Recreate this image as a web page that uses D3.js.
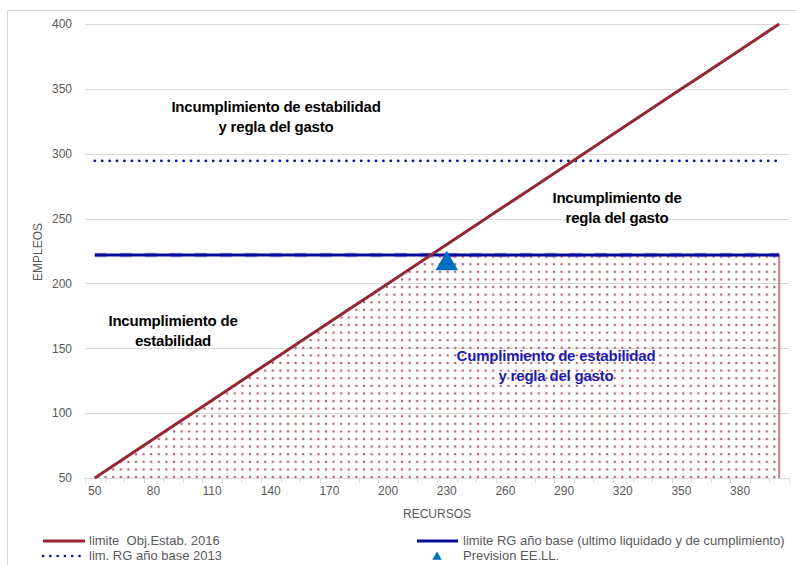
<!DOCTYPE html>
<html>
<head>
<meta charset="utf-8">
<script src="https://cdn.jsdelivr.net/npm/d3@7"></script>
<style>
  html, body { margin: 0; padding: 0; background: #fff; }
  svg { display: block; }
  text { font-family: "Liberation Sans", Arial, sans-serif; }
</style>
</head>
<body>
<svg id="chart" width="796" height="565"></svg>
<script>
// ---- Data ----
const categories = [50,60,70,80,90,100,110,120,130,140,150,160,170,180,190,200,210,220,230,240,250,260,270,280,290,300,310,320,330,340,350,360,370,380,390,400];
const limiteEstab = [50,60,70,80,90,100,110,120,130,140,150,160,170,180,190,200,210,220,230,240,250,260,270,280,290,300,310,320,330,340,350,360,370,380,390,400];
const limiteRG = [222,222,222,222,222,222,222,222,222,222,222,222,222,222,222,222,222,222,222,222,222,222,222,222,222,222,222,222,222,222,222,222,222,222,222,222];
const limRG2013 = [294.5,294.5,294.5,294.5,294.5,294.5,294.5,294.5,294.5,294.5,294.5,294.5,294.5,294.5,294.5,294.5,294.5,294.5,294.5,294.5,294.5,294.5,294.5,294.5,294.5,294.5,294.5,294.5,294.5,294.5,294.5,294.5,294.5,294.5,294.5,294.5];
const previsionX = [230];
const previsionY = [216];
const yTicks = [50,100,150,200,250,300,350,400];
const xLabelEvery = 3;

const svg = d3.select("#chart");
const pLeft = 85, pRight = 789, pTop = 24, pBottom = 478;

// frame
svg.append("path").attr("d","M7.5,565 V10.5 H796").attr("fill","none").attr("stroke","#d9d9d9").attr("stroke-width",1);

const x = d3.scaleBand().domain(categories).range([pLeft, pRight]).padding(0);
const cx = d => x(d) + x.bandwidth()/2;
const y = d3.scaleLinear().domain([50, 400]).range([pBottom, pTop]);

// gridlines
svg.append("g").selectAll("line").data(yTicks.slice(1)).join("line")
  .attr("x1", pLeft).attr("x2", pRight)
  .attr("y1", d => Math.round(y(d))+0.5).attr("y2", d => Math.round(y(d))+0.5)
  .attr("stroke", "#d9d9d9").attr("stroke-width", 1.2);

// y axis labels
const yAxis = d3.axisLeft(y).tickValues(yTicks).tickSize(0).tickPadding(13);
const gy = svg.append("g").attr("transform", `translate(${pLeft},0)`).call(yAxis);
gy.select(".domain").remove();
gy.selectAll("text").attr("fill","#595959").style("font-size","12px").style("font-family","'Liberation Sans', Arial, sans-serif");

// pattern
const defs = svg.append("defs");
const pat = defs.append("pattern").attr("id","dots").attr("patternUnits","userSpaceOnUse")
  .attr("width",7.6).attr("height",7.6).attr("x", 3).attr("y", 2);
pat.append("circle").attr("cx",3.8).attr("cy",3.8).attr("r",1.5).attr("fill","#e6bcc2");
pat.append("circle").attr("cx",3.8).attr("cy",3.8).attr("r",0.9).attr("fill","#a83848");

// compliance area = min(estab, RG)
const areaVals = categories.map((c,i) => ({c, v: Math.min(limiteEstab[i], limiteRG[i])}));
const area = d3.area().x(d => cx(d.c)).y0(y(50)).y1(d => y(d.v));
svg.append("path").datum(areaVals).attr("d", area).attr("fill","url(#dots)");
// right edge border of area
const lastC = categories[categories.length-1];
svg.append("line").attr("x1", cx(lastC)).attr("x2", cx(lastC))
  .attr("y1", y(areaVals[areaVals.length-1].v)).attr("y2", y(50))
  .attr("stroke","#c0808a").attr("stroke-width",2);

// x axis
const xAxis = d3.axisBottom(x).tickSize(0).tickPadding(8)
  .tickFormat((d,i) => i % xLabelEvery === 0 ? d : "");
const gx = svg.append("g").attr("transform", `translate(0,${pBottom})`).call(xAxis);
gx.select(".domain").attr("stroke","#d9d9d9").attr("stroke-width",1.2);
gx.selectAll("text").attr("fill","#595959").style("font-size","12px").style("font-family","'Liberation Sans', Arial, sans-serif");
// tick marks at category boundaries
svg.append("g").selectAll("line").data(categories.concat(["end"])).join("line")
  .attr("x1", (d,i) => Math.round(pLeft + i*x.bandwidth())+0.5)
  .attr("x2", (d,i) => Math.round(pLeft + i*x.bandwidth())+0.5)
  .attr("y1", pBottom).attr("y2", pBottom+5)
  .attr("stroke","#d9d9d9").attr("stroke-width",1);

// lim RG 2013 dotted
const line = d3.line().x((d,i) => cx(categories[i])).y(d => y(d));
svg.append("path").datum(limRG2013).attr("d", line)
  .attr("fill","none").attr("stroke","#0a1496").attr("stroke-width",2.8)
  .attr("stroke-dasharray","0.1 7.3").attr("stroke-linecap","round");

// limite RG solid (with faint dashed underlay)
svg.append("path").datum(limiteRG).attr("d", line)
  .attr("fill","none").attr("stroke","#6a6ad0").attr("stroke-width",4.5)
  .attr("stroke-dasharray","12 13").attr("opacity",0.6);
svg.append("path").datum(limiteRG).attr("d", line)
  .attr("fill","none").attr("stroke","#0a0a9c").attr("stroke-width",3);

// limite Estab red
svg.append("path").datum(limiteEstab).attr("d", line)
  .attr("fill","none").attr("stroke","#922834").attr("stroke-width",3);

// prevision triangle
const tri = d3.symbol().type(d3.symbolTriangle).size(220);
svg.append("g").selectAll("path").data(previsionX).join("path")
  .attr("d", tri)
  .attr("transform", (d,i) => `translate(${cx(d)},${y(previsionY[i])+1})`)
  .attr("fill","#0070c0");

// axis titles
svg.append("text").attr("x", 437).attr("y", 518).attr("text-anchor","middle")
  .attr("fill","#595959").style("font-size","12px").text("RECURSOS");
svg.append("text").attr("transform","translate(42,252) rotate(-90)").attr("text-anchor","middle")
  .attr("fill","#595959").style("font-size","12px").text("EMPLEOS");

// annotations
function note(cxp, y1, lines, color) {
  const t = svg.append("text").attr("text-anchor","middle").attr("fill", color)
    .style("font-size","15px").style("font-weight","bold").style("letter-spacing","-0.2px");
  lines.forEach((s,i) => t.append("tspan").attr("x", cxp).attr("y", y1 + i*20).text(s));
}
note(276, 112, ["Incumplimiento de estabilidad","y regla del gasto"], "#000");
note(617, 203, ["Incumplimiento de","regla del gasto"], "#000");
note(173, 326, ["Incumplimiento de","estabilidad"], "#000");
note(556, 361, ["Cumplimiento de estabilidad","y regla del gasto"], "#1c1cb0");

// legend
const lg = svg.append("g");
const lf = "13px";
lg.append("line").attr("x1",43).attr("x2",85).attr("y1",541).attr("y2",541).attr("stroke","#922834").attr("stroke-width",3);
lg.append("text").attr("x",89).attr("y",545).attr("fill","#595959").style("font-size",lf).style("white-space","pre").text("limite  Obj.Estab. 2016");
lg.append("line").attr("x1",43).attr("x2",82).attr("y1",556).attr("y2",556).attr("stroke","#0a1496").attr("stroke-width",2.6)
  .attr("stroke-dasharray","0.1 7.2").attr("stroke-linecap","round");
lg.append("text").attr("x",89).attr("y",560).attr("fill","#595959").style("font-size",lf).text("lim. RG año base 2013");
lg.append("line").attr("x1",417).attr("x2",458).attr("y1",541).attr("y2",541).attr("stroke","#0a0a9c").attr("stroke-width",3);
lg.append("text").attr("x",463).attr("y",545).attr("fill","#595959").style("font-size",lf).text("limite RG año base (ultimo liquidado y de cumplimiento)");
lg.append("path").attr("d", d3.symbol().type(d3.symbolTriangle).size(40)).attr("transform","translate(437,557)").attr("fill","#0070c0");
lg.append("text").attr("x",463).attr("y",560).attr("fill","#595959").style("font-size",lf).text("Prevision EE.LL.");
</script>
</body>
</html>
